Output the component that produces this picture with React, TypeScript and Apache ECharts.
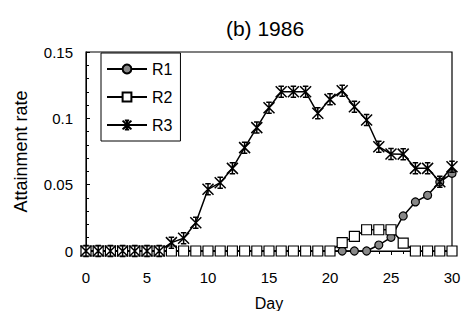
import React, { useEffect, useRef } from "react";
import * as echarts from "echarts";

const days = [0,1,2,3,4,5,6,7,8,9,10,11,12,13,14,15,16,17,18,19,20,21,22,23,24,25,26,27,28,29,30];
const r1 = [0,0,0,0,0,0,0,0,0,0,0,0,0,0,0,0,0,0,0,0,0,0,0,0,0.0045,0.0103,0.0264,0.037,0.042,0.052,0.0585];
const r2 = [0,0,0,0,0,0,0,0,0,0,0,0,0,0,0,0,0,0,0,0,0,0.0063,0.011,0.016,0.016,0.016,0.006,0,0,0,0];
const r3 = [0,0,0,0,0,0,0,0.0063,0.0096,0.0213,0.0465,0.0515,0.0623,0.0779,0.093,0.108,0.12,0.12,0.12,0.1038,0.1143,0.1208,0.1087,0.0987,0.0786,0.0731,0.073,0.0623,0.0623,0.0522,0.0635];
const seriesNames = ["R1", "R2", "R3"];
const xTicks = { min: 0, max: 30, interval: 5 };
const yTicks = { min: 0, max: 0.15, interval: 0.05 };

const starPath = "path://M0 0L10 10M10 0L0 10M5 0L5 10M2.5 0L7.5 0M2.5 10L7.5 10";
const FONT = "'Liberation Sans', Arial, sans-serif";

export default function App() {
  const ref = useRef<HTMLDivElement>(null);
  useEffect(() => {
    const chart = echarts.init(ref.current!, null, { renderer: "svg" });
    const mk = (vals: number[]) => days.map((d, i) => [d, vals[i]]);
    const lineStyle = { color: "#000", width: 1.5 };
    chart.setOption({
      animation: false,
      backgroundColor: "#fff",
      title: {
        text: "(b) 1986",
        left: 260,
        top: 13,
        textAlign: "center",
        textStyle: { fontFamily: FONT, fontSize: 21, fontWeight: "normal", color: "#000" },
      },
      grid: {
        left: 86, right: 10, top: 52, bottom: 60,
        containLabel: false,
        outerBoundsMode: "none",
        show: true, borderColor: "#000", borderWidth: 1.2, backgroundColor: "transparent",
      },
      legend: {
        orient: "vertical",
        left: 101,
        top: 53,
        data: seriesNames,
        borderColor: "#000",
        borderWidth: 1,
        borderRadius: 0,
        backgroundColor: "#fff",
        padding: [8, 8, 8, 5],
        itemWidth: 40,
        itemHeight: 11,
        itemGap: 12,
        textStyle: { fontFamily: FONT, fontSize: 16, color: "#000" },
      },
      xAxis: {
        type: "value",
        ...xTicks,
        name: "Day",
        nameLocation: "middle",
        nameGap: 44,
        nameTextStyle: { fontFamily: FONT, fontSize: 16, color: "#000" },
        axisLine: { show: true, onZero: true, lineStyle: { color: "#000", width: 1 } },
        axisTick: { show: true, inside: false, length: 4, lineStyle: { color: "#000" } },
        minorTick: { show: true, splitNumber: 5, length: 3, lineStyle: { color: "#000" } },
        axisLabel: { fontFamily: FONT, fontSize: 15, color: "#000", margin: 19 },
        splitLine: { show: false },
      },
      yAxis: {
        type: "value",
        ...yTicks,
        name: "Attainment rate",
        nameLocation: "middle",
        nameGap: 56,
        nameTextStyle: { fontFamily: FONT, fontSize: 18, color: "#000" },
        axisLine: { show: true, lineStyle: { color: "#000", width: 1 } },
        axisTick: { show: true, inside: true, length: 4, lineStyle: { color: "#000" } },
        minorTick: { show: true, splitNumber: 5, length: 3, lineStyle: { color: "#000" } },
        axisLabel: { fontFamily: FONT, fontSize: 15, color: "#000", margin: 13 },
        splitLine: { show: false },
      },
      series: [
        {
          name: "R1", type: "line", data: mk(r1),
          symbol: "circle", symbolSize: 8,
          itemStyle: { color: "#888", borderColor: "#000", borderWidth: 1.2 },
          lineStyle,
        },
        {
          name: "R2", type: "line", data: mk(r2),
          symbol: "rect", symbolSize: 10,
          itemStyle: { color: "#fff", borderColor: "#000", borderWidth: 1.2 },
          lineStyle,
        },
        {
          name: "R3", type: "line", data: mk(r3),
          symbol: starPath, symbolSize: 11,
          itemStyle: { color: "none", borderColor: "#000", borderWidth: 1.5 },
          lineStyle,
        },
      ],
    });
    return () => chart.dispose();
  }, []);
  return <div ref={ref} style={{ width: 462, height: 311, position: "absolute", left: 0, top: 0 }} />;
}
